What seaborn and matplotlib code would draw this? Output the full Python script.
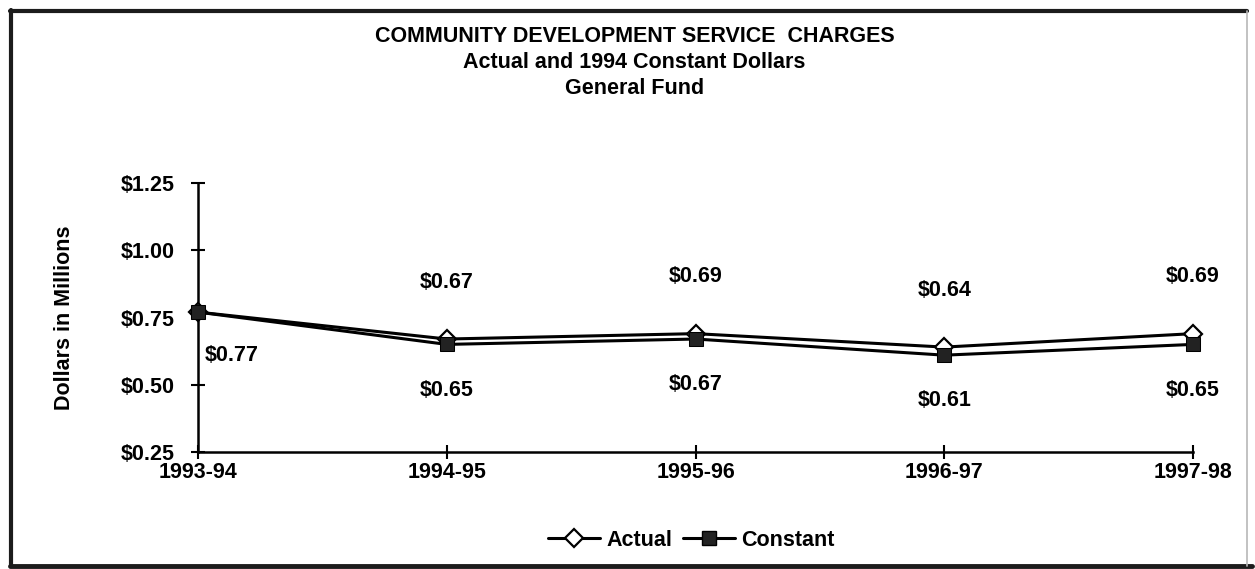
import matplotlib
matplotlib.use("Agg")
import matplotlib.pyplot as plt
from matplotlib.lines import Line2D
import seaborn as sns
import pandas as pd

years = ["1993-94", "1994-95", "1995-96", "1996-97", "1997-98"]
actual = [0.77, 0.67, 0.69, 0.64, 0.69]
constant = [0.77, 0.65, 0.67, 0.61, 0.65]
y_ticks = [0.25, 0.50, 0.75, 1.00, 1.25]

title_lines = ["COMMUNITY DEVELOPMENT SERVICE  CHARGES",
               "Actual and 1994 Constant Dollars",
               "General Fund"]

FS = 15.5

sns.set_style("white")
plt.rcParams["font.family"] = ["Liberation Sans", "DejaVu Sans"]
plt.rcParams["font.weight"] = "bold"
plt.rcParams["text.color"] = "black"
plt.rcParams["axes.labelcolor"] = "black"
plt.rcParams["xtick.color"] = "black"
plt.rcParams["ytick.color"] = "black"

fig = plt.figure(figsize=(12.55, 5.69), dpi=100)
ax = fig.add_axes([0.1578, 0.2056, 0.7928, 0.4728])

pos = list(range(len(years)))
df = pd.DataFrame({"pos": pos, "Actual": actual, "Constant": constant})

sns.lineplot(data=df, x="pos", y="Actual", ax=ax, color="black", lw=2.2,
             marker="D", markersize=9, markerfacecolor="white",
             markeredgecolor="black", markeredgewidth=1.6, zorder=3, clip_on=False)
sns.lineplot(data=df, x="pos", y="Constant", ax=ax, color="black", lw=2.2,
             marker="s", markersize=10, markerfacecolor="#222222",
             markeredgecolor="black", zorder=4, clip_on=False)

ax.set_xlim(0, len(years) - 1)
ax.set_ylim(0.25, 1.25)
ax.set_xticks(pos)
ax.set_xticklabels(years, fontsize=FS, fontweight="bold")
ax.set_yticks(y_ticks)
ax.set_yticklabels([f"${v:.2f}" for v in y_ticks], fontsize=FS, fontweight="bold")
ax.tick_params(axis="both", direction="inout", length=10, width=1.5,
               color="black", bottom=True, left=True)
ax.tick_params(axis="y", pad=12)
ax.tick_params(axis="x", pad=2)
for s in ["top", "right"]:
    ax.spines[s].set_visible(False)
for s in ["left", "bottom"]:
    ax.spines[s].set_color("black")
    ax.spines[s].set_linewidth(1.8)
ax.set_xlabel("")
ax.set_ylabel("Dollars in Millions", fontsize=FS, fontweight="bold", labelpad=33)

# value labels: actual above, constant below (first year shares one label)
for i, (a, c) in enumerate(zip(actual, constant)):
    if i == 0:
        ax.annotate(f"${c:.2f}", (i, c), xytext=(5, -31), textcoords="offset points",
                    ha="left", va="center", fontsize=FS, fontweight="bold")
        continue
    ax.annotate(f"${a:.2f}", (i, a), xytext=(0, 41), textcoords="offset points",
                ha="center", va="center", fontsize=FS, fontweight="bold")
    ax.annotate(f"${c:.2f}", (i, c), xytext=(0, -33), textcoords="offset points",
                ha="center", va="center", fontsize=FS, fontweight="bold")

for k, line in enumerate(title_lines):
    fig.text(0.5056, 1 - (37 + 26 * k) / 569, line, ha="center", va="center",
             fontsize=FS, fontweight="bold")

handles = [
    Line2D([], [], color="black", lw=2.2, marker="D", markersize=9,
           markerfacecolor="white", markeredgecolor="black", markeredgewidth=1.6),
    Line2D([], [], color="black", lw=2.2, marker="s", markersize=10,
           markerfacecolor="#222222", markeredgecolor="black"),
]
fig.legend(handles, ["Actual", "Constant"], loc="center",
           bbox_to_anchor=(0.551, 1 - 540 / 569), ncol=2, frameon=False,
           prop={"size": FS, "weight": "bold"}, handlelength=2.4,
           handletextpad=0.3, columnspacing=0.5)

# outer frame: heavy rules on top, left and bottom, a faint one on the right
W, H = 1255, 569
frame = [((10, 1247), (11, 11), 3.0, "#1c1c1c"),    # top
         ((11, 11), (10, 566), 3.0, "#1c1c1c"),     # left
         ((10, 1252), (566, 566), 3.5, "#1c1c1c"),  # bottom
         ((1247, 1247), (11, 566), 1.2, "#b8b8b8")]  # right
for (xa, xb), (ya, yb), lw, col in frame:
    fig.add_artist(Line2D([xa / W, xb / W], [1 - ya / H, 1 - yb / H],
                          transform=fig.transFigure, color=col, lw=lw))

fig.savefig("out.png", dpi=100)
